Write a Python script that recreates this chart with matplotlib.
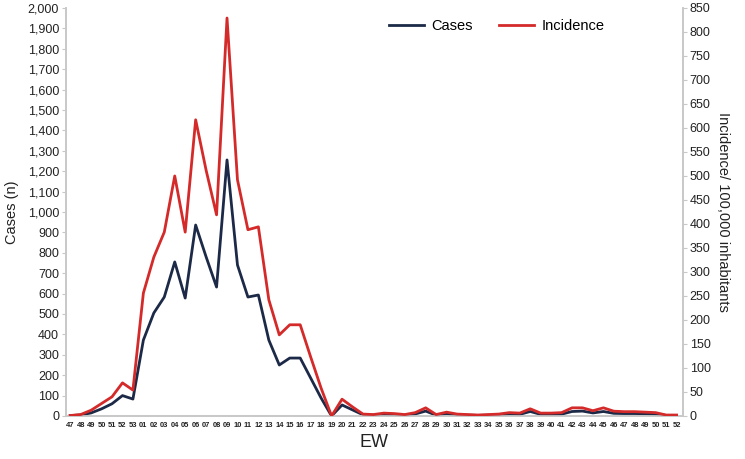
import matplotlib
matplotlib.use("Agg")
import matplotlib.pyplot as plt
from matplotlib.ticker import FuncFormatter, MultipleLocator

plt.rcParams['font.family'] = ['Liberation Sans', 'DejaVu Sans']

weeks = ["47", "48", "49", "50", "51", "52", "53"] + [f"{w:02d}" for w in range(1, 53)]

cases = [2, 5, 15, 35, 60, 100, 83, 372, 505, 583, 755, 578, 936, 780, 632, 1255,
         740, 583, 593, 372, 250, 284, 284, 186, 88, 0, 54, 30, 6, 4, 8,
         6, 4, 10, 24, 4, 12, 5, 4, 3, 4, 5, 10, 8, 22, 8, 8, 9, 22,
         24, 15, 22, 13, 12, 12, 11, 9, 3, 3]

incidence = [1, 3, 12, 26, 40, 69, 54, 256, 331, 383, 500, 383, 617, 512, 419, 829,
             492, 388, 394, 242, 169, 190, 190, 123, 58, 0, 35, 19, 4, 3, 6,
             5, 3, 7, 17, 3, 8, 4, 3, 2, 3, 4, 7, 6, 15, 6, 6, 7, 17,
             17, 11, 17, 10, 9, 9, 8, 7, 2, 2]

x = list(range(len(weeks)))

fig = plt.figure(figsize=(7.45, 4.59), dpi=100)
ax = fig.add_axes([0.0886, 0.0937, 0.828, 0.889])
ax2 = ax.twinx()

navy = "#1c2a48"
red = "#d42a2a"
gray = "#c8c8c8"
txt = "#222222"

l1, = ax.plot(x, cases, color=navy, lw=2.0, label="Cases", zorder=3)
l2, = ax2.plot(x, incidence, color=red, lw=2.0, label="Incidence", zorder=3)

ax.set_xlim(-0.4, 58.6)
ax.set_ylim(0, 2000)
ax2.set_ylim(0, 850)
ax.yaxis.set_major_locator(MultipleLocator(100))
ax2.yaxis.set_major_locator(MultipleLocator(50))
ax.yaxis.set_major_formatter(FuncFormatter(lambda v, p: f"{int(v):,}"))

ax.set_xticks(x)
ax.set_xticklabels(weeks, fontsize=5.4, color=txt, fontweight='bold')
ax.tick_params(axis='x', length=0, pad=4)
ax.tick_params(axis='y', labelsize=9, colors=gray, labelcolor=txt, length=3, pad=2)
ax2.tick_params(axis='y', labelsize=9, colors=gray, labelcolor=txt, length=3, pad=2)

for a in (ax, ax2):
    a.spines['top'].set_visible(False)
    for s in ('left', 'right', 'bottom'):
        a.spines[s].set_color(gray)
        a.spines[s].set_linewidth(1.2)

ax.set_ylabel("Cases (n)", fontsize=10.5, color=txt, labelpad=6)
ax2.set_ylabel("Incidence/ 100,000 inhabitants", fontsize=10.5, color=txt,
               rotation=270, labelpad=14)
ax.set_xlabel("EW", fontsize=13, color=txt, labelpad=4)

leg = ax.legend([l1, l2], ["Cases", "Incidence"], loc='upper center',
                bbox_to_anchor=(0.698, 1.005), ncol=2, frameon=False,
                fontsize=10.5, handlelength=2.4, columnspacing=1.8, handletextpad=0.5)

fig.savefig("out.png", dpi=100)
